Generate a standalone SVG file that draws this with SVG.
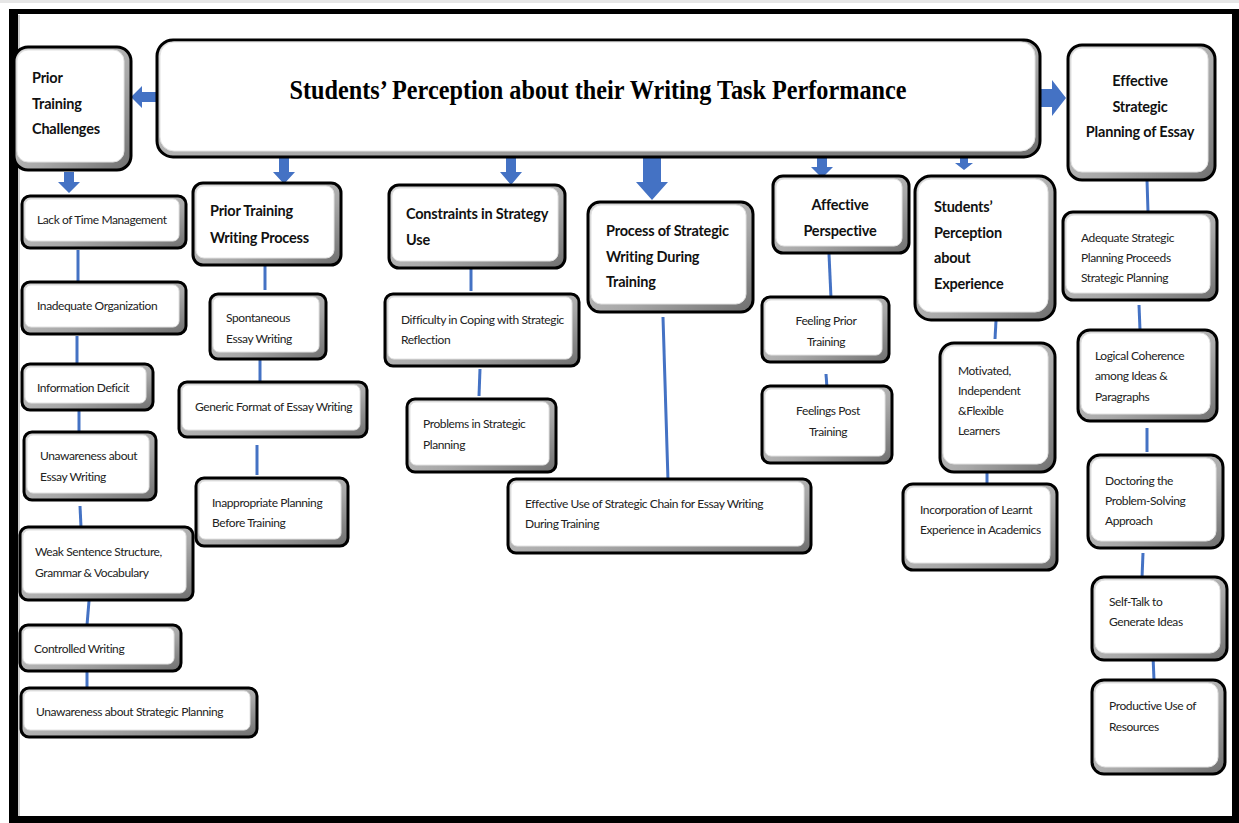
<svg xmlns="http://www.w3.org/2000/svg" width="1239" height="823" viewBox="0 0 1239 823">
<defs>
<linearGradient id="bev" x1="0" y1="0" x2="1" y2="1">
<stop offset="0" stop-color="#d8d8d8"/>
<stop offset="0.6" stop-color="#a8a8a8"/>
<stop offset="1" stop-color="#6e6e6e"/>
</linearGradient>
<style>
.o{fill:url(#bev);stroke:#000;stroke-width:3}
.i{fill:#fff;stroke:#e2e2e2;stroke-width:1}
.h{font-family:Lato,"Noto Sans",sans-serif;font-size:14.5px;font-weight:bold;fill:#111;letter-spacing:-0.2px}
.s{font-family:Lato,"Noto Sans",sans-serif;font-size:12px;fill:#222;letter-spacing:-0.4px}
.c{text-anchor:middle}
.ln{stroke:#4472C4;stroke-width:3;fill:none}
.ar{fill:#4472C4}
</style>
</defs>
<rect x="0" y="0" width="1239" height="823" fill="#fff"/>
<rect x="0" y="0" width="1239" height="3" fill="#e6e6e6"/>
<rect x="9" y="9" width="1230" height="5" fill="#000"/>
<rect x="9" y="9" width="9" height="814" fill="#000"/>
<rect x="1232" y="9" width="7" height="814" fill="#000"/>
<rect x="18" y="816" width="1221" height="7" fill="#000"/>
<line x1="19" y1="15" x2="19" y2="816" stroke="#999" stroke-width="1"/>

<g id="connectors">
<polygon class="ar" points="157,92 142,92 142,86 131,97 142,108 142,102 157,102"/>
<polygon class="ar" points="1040,89 1052,89 1052,80 1066,98 1052,116 1052,107 1040,107"/>
<polygon class="ar" points="64,172 74,172 74,182 80,182 69,193 58,182 64,182"/>
<polygon class="ar" points="279,158 289,158 289,172 295,172 284,184 273,172 279,172"/>
<polygon class="ar" points="506,157 516,157 516,172 522,172 511,185 500,172 506,172"/>
<polygon class="ar" points="643,157 661,157 661,182 668,182 652,200 636,182 643,182"/>
<polygon class="ar" points="817,157 827,157 827,167 833,167 822,178 811,167 817,167"/>
<polygon class="ar" points="960,157 968,157 968,163 973,163 964,170 955,163 960,163"/>
<line class="ln" x1="78" y1="250" x2="78" y2="282"/>
<line class="ln" x1="77" y1="336" x2="77" y2="364"/>
<line class="ln" x1="79" y1="411" x2="79" y2="432"/>
<line class="ln" x1="80" y1="506" x2="81" y2="527"/>
<line class="ln" x1="89" y1="601" x2="87" y2="625"/>
<line class="ln" x1="87" y1="671" x2="87" y2="688"/>
<line class="ln" x1="265" y1="266" x2="265" y2="290"/>
<line class="ln" x1="260" y1="360" x2="260" y2="384"/>
<line class="ln" x1="257" y1="445" x2="257" y2="475"/>
<line class="ln" x1="471" y1="269" x2="471" y2="291"/>
<line class="ln" x1="480" y1="369" x2="479" y2="396"/>
<line class="ln" x1="663" y1="317" x2="668" y2="481"/>
<line class="ln" x1="829" y1="254" x2="831" y2="298"/>
<line class="ln" x1="826" y1="374" x2="827" y2="388"/>
<line class="ln" x1="996" y1="321" x2="995" y2="339"/>
<line class="ln" x1="987" y1="472" x2="987" y2="490"/>
<line class="ln" x1="1147" y1="180" x2="1148" y2="212"/>
<line class="ln" x1="1139" y1="305" x2="1140" y2="330"/>
<line class="ln" x1="1147" y1="428" x2="1147" y2="452"/>
<line class="ln" x1="1143" y1="553" x2="1142" y2="578"/>
<line class="ln" x1="1153" y1="656" x2="1154" y2="680"/>
</g>

<g id="title">
<rect class="o" x="157" y="40" width="883" height="117" rx="16"/>
<rect class="i" x="160" y="42" width="875" height="109" rx="14"/>
<text x="598" y="99" text-anchor="middle" font-family="'Liberation Serif',serif" font-weight="bold" font-size="27" textLength="617" lengthAdjust="spacingAndGlyphs" fill="#000">Students’ Perception  about their Writing Task Performance</text>
</g>

<g id="n-prior-training-challenges">
<rect class="o" x="14" y="47" width="117" height="123" rx="14"/>
<rect class="i" x="17" y="50" width="107" height="112" rx="11"/>
<text class="h" x="32" y="83">Prior</text>
<text class="h" x="32" y="109">Training</text>
<text class="h" x="32" y="134">Challenges</text>
</g>

<g id="n-effective-strategic-planning">
<rect class="o" x="1068" y="45" width="147" height="135" rx="14"/>
<rect class="i" x="1071" y="48" width="137" height="124" rx="11"/>
<text class="h c" x="1140" y="86">Effective</text>
<text class="h c" x="1140" y="112">Strategic</text>
<text class="h c" x="1140" y="137">Planning  of Essay</text>
</g>

<g id="n-lack-time">
<rect class="o" x="22" y="196" width="164" height="52" rx="8"/>
<rect class="i" x="25" y="199" width="154" height="42" rx="6"/>
<text class="s" x="37" y="224">Lack of Time Management</text>
</g>
<g id="n-inadequate-org">
<rect class="o" x="22" y="282" width="164" height="52" rx="8"/>
<rect class="i" x="25" y="285" width="154" height="42" rx="6"/>
<text class="s" x="37" y="310">Inadequate Organization</text>
</g>
<g id="n-info-deficit">
<rect class="o" x="22" y="364" width="131" height="46" rx="8"/>
<rect class="i" x="25" y="367" width="121" height="36" rx="6"/>
<text class="s" x="37" y="392">Information Deficit</text>
</g>
<g id="n-unaware-essay">
<rect class="o" x="24" y="432" width="132" height="68" rx="8"/>
<rect class="i" x="27" y="435" width="122" height="58" rx="6"/>
<text class="s" x="40" y="460">Unawareness about</text>
<text class="s" x="40" y="481">Essay Writing</text>
</g>
<g id="n-weak-sentence">
<rect class="o" x="20" y="527" width="173" height="73" rx="8"/>
<rect class="i" x="23" y="530" width="163" height="63" rx="6"/>
<text class="s" x="35" y="556">Weak Sentence Structure,</text>
<text class="s" x="35" y="577">Grammar &amp; Vocabulary</text>
</g>
<g id="n-controlled">
<rect class="o" x="20" y="625" width="161" height="46" rx="8"/>
<rect class="i" x="23" y="628" width="151" height="36" rx="6"/>
<text class="s" x="34" y="653">Controlled Writing</text>
</g>
<g id="n-unaware-strategic">
<rect class="o" x="21" y="688" width="236" height="49" rx="8"/>
<rect class="i" x="24" y="691" width="226" height="39" rx="6"/>
<text class="s" x="36" y="716">Unawareness about Strategic Planning</text>
</g>

<g id="n-prior-writing-process">
<rect class="o" x="193" y="183" width="148" height="82" rx="10"/>
<rect class="i" x="196" y="186" width="138" height="72" rx="8"/>
<text class="h" x="210" y="216">Prior Training</text>
<text class="h" x="210" y="243">Writing Process</text>
</g>
<g id="n-spontaneous">
<rect class="o" x="210" y="294" width="116" height="65" rx="8"/>
<rect class="i" x="213" y="297" width="106" height="55" rx="6"/>
<text class="s" x="226" y="322">Spontaneous</text>
<text class="s" x="226" y="343">Essay Writing</text>
</g>
<g id="n-generic">
<rect class="o" x="179" y="382" width="188" height="55" rx="8"/>
<rect class="i" x="182" y="385" width="178" height="45" rx="6"/>
<text class="s" x="195" y="411">Generic Format of Essay Writing</text>
</g>
<g id="n-inappropriate">
<rect class="o" x="196" y="478" width="152" height="68" rx="8"/>
<rect class="i" x="199" y="481" width="142" height="58" rx="6"/>
<text class="s" x="212" y="507">Inappropriate Planning</text>
<text class="s" x="212" y="527">Before Training</text>
</g>

<g id="n-constraints">
<rect class="o" x="389" y="185" width="176" height="83" rx="10"/>
<rect class="i" x="392" y="188" width="166" height="73" rx="8"/>
<text class="h" x="406" y="219">Constraints in Strategy</text>
<text class="h" x="406" y="245">Use</text>
</g>
<g id="n-difficulty">
<rect class="o" x="385" y="294" width="194" height="72" rx="8"/>
<rect class="i" x="388" y="297" width="184" height="62" rx="6"/>
<text class="s" x="401" y="324">Difficulty in Coping with Strategic</text>
<text class="s" x="401" y="344">Reflection</text>
</g>
<g id="n-problems">
<rect class="o" x="407" y="399" width="149" height="73" rx="8"/>
<rect class="i" x="410" y="402" width="139" height="63" rx="6"/>
<text class="s" x="423" y="428">Problems in Strategic</text>
<text class="s" x="423" y="449">Planning</text>
</g>

<g id="n-process">
<rect class="o" x="588" y="202" width="165" height="110" rx="12"/>
<rect class="i" x="591" y="205" width="155" height="99" rx="10"/>
<text class="h" x="606" y="236">Process of Strategic</text>
<text class="h" x="606" y="262">Writing During</text>
<text class="h" x="606" y="287">Training</text>
</g>
<g id="n-effective-use">
<rect class="o" x="508" y="479" width="303" height="74" rx="8"/>
<rect class="i" x="511" y="482" width="293" height="64" rx="6"/>
<text class="s" x="525" y="508">Effective Use of Strategic Chain for Essay Writing</text>
<text class="s" x="525" y="528">During Training</text>
</g>

<g id="n-affective">
<rect class="o" x="773" y="176" width="136" height="77" rx="10"/>
<rect class="i" x="776" y="179" width="126" height="67" rx="8"/>
<text class="h c" x="840" y="210">Affective</text>
<text class="h c" x="840" y="236">Perspective</text>
</g>
<g id="n-feeling-prior">
<rect class="o" x="762" y="297" width="127" height="65" rx="8"/>
<rect class="i" x="765" y="300" width="117" height="55" rx="6"/>
<text class="s c" x="826" y="325">Feeling Prior</text>
<text class="s c" x="826" y="346">Training</text>
</g>
<g id="n-feelings-post">
<rect class="o" x="762" y="386" width="130" height="77" rx="8"/>
<rect class="i" x="765" y="389" width="120" height="67" rx="6"/>
<text class="s c" x="828" y="415">Feelings Post</text>
<text class="s c" x="828" y="436">Training</text>
</g>

<g id="n-perception-experience">
<rect class="o" x="915" y="176" width="140" height="144" rx="16"/>
<rect class="i" x="918" y="179" width="130" height="133" rx="13"/>
<text class="h" x="934" y="212">Students’</text>
<text class="h" x="934" y="238">Perception</text>
<text class="h" x="934" y="263">about</text>
<text class="h" x="934" y="289">Experience</text>
</g>
<g id="n-motivated">
<rect class="o" x="940" y="343" width="115" height="129" rx="14"/>
<rect class="i" x="943" y="346" width="105" height="118" rx="11"/>
<text class="s" x="958" y="375">Motivated,</text>
<text class="s" x="958" y="395">Independent</text>
<text class="s" x="958" y="415">&amp;Flexible</text>
<text class="s" x="958" y="435">Learners</text>
</g>
<g id="n-incorporation">
<rect class="o" x="903" y="484" width="154" height="86" rx="10"/>
<rect class="i" x="906" y="487" width="144" height="76" rx="8"/>
<text class="s" x="920" y="514">Incorporation of Learnt</text>
<text class="s" x="920" y="534">Experience in Academics</text>
</g>

<g id="n-adequate">
<rect class="o" x="1063" y="212" width="154" height="88" rx="10"/>
<rect class="i" x="1066" y="215" width="144" height="78" rx="8"/>
<text class="s" x="1081" y="242">Adequate Strategic</text>
<text class="s" x="1081" y="262">Planning Proceeds</text>
<text class="s" x="1081" y="282">Strategic Planning</text>
</g>
<g id="n-logical">
<rect class="o" x="1078" y="330" width="139" height="91" rx="12"/>
<rect class="i" x="1081" y="333" width="129" height="81" rx="10"/>
<text class="s" x="1095" y="360">Logical Coherence</text>
<text class="s" x="1095" y="380">among Ideas &amp;</text>
<text class="s" x="1095" y="401">Paragraphs</text>
</g>
<g id="n-doctoring">
<rect class="o" x="1088" y="455" width="135" height="93" rx="12"/>
<rect class="i" x="1091" y="458" width="125" height="83" rx="10"/>
<text class="s" x="1105" y="485">Doctoring the</text>
<text class="s" x="1105" y="505">Problem-Solving</text>
<text class="s" x="1105" y="525">Approach</text>
</g>
<g id="n-selftalk">
<rect class="o" x="1092" y="577" width="135" height="83" rx="12"/>
<rect class="i" x="1095" y="580" width="125" height="73" rx="10"/>
<text class="s" x="1109" y="606">Self-Talk to</text>
<text class="s" x="1109" y="626">Generate Ideas</text>
</g>
<g id="n-productive">
<rect class="o" x="1092" y="680" width="133" height="94" rx="12"/>
<rect class="i" x="1095" y="683" width="123" height="84" rx="10"/>
<text class="s" x="1109" y="710">Productive Use of</text>
<text class="s" x="1109" y="731">Resources</text>
</g>
</svg>
